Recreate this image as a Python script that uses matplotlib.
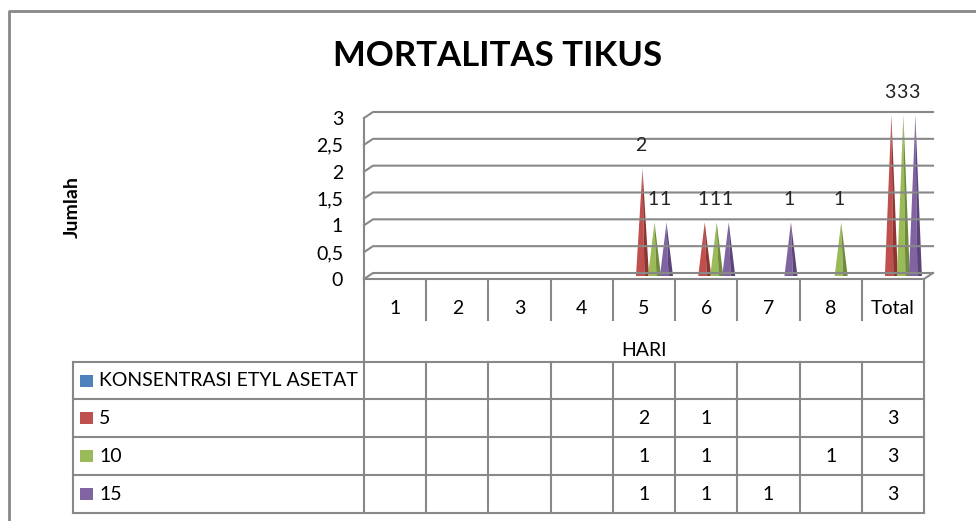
# Recreation of the chart "MORTALITAS TIKUS" (Excel-like 3D cone chart with data table)

# Import of libraries
import matplotlib
matplotlib.use("Agg")
import matplotlib.pyplot as plt
import numpy as np
from matplotlib.patches import Polygon, Rectangle
from matplotlib.ticker import FuncFormatter

plt.rcParams['font.family'] = ['Lato', 'DejaVu Sans']

# -----------------------------------------------------------------------------
# Data

nan = np.nan
hari = ['1', '2', '3', '4', '5', '6', '7', '8', 'Total']
seri = ['KONSENTRASI ETYL ASETAT', '5', '10', '15']
konsentrasi = [nan, nan, nan, nan, nan, nan, nan, nan, nan]
k5 = [nan, nan, nan, nan, 2, 1, nan, nan, 3]
k10 = [nan, nan, nan, nan, 1, 1, nan, 1, 3]
k15 = [nan, nan, nan, nan, 1, 1, 1, nan, 3]
y_ticks = [0, 0.5, 1, 1.5, 2, 2.5, 3]

warna = ['#4F81BD', '#C0504D', '#9BBB59', '#8064A2']
warna_gelap = ['#3A6194', '#8E3431', '#6F8B3B', '#5B4479']
abu = '#888888'
fs = 14

# -----------------------------------------------------------------------------
# Layout (pixels)

W, H = 976, 521
x_front, x_end = 364, 924
y_zero, y_top = 279, 118
depth_x, depth_y = 9, 6

fig = plt.figure(figsize=(W / 100, H / 100), dpi=100)

# overlay in pixel coordinates for frame and table
ax_t = fig.add_axes([0, 0, 1, 1])
ax_t.set_xlim(0, W)
ax_t.set_ylim(H, 0)
ax_t.axis('off')

# chart axes
ax = fig.add_axes([x_front / W, 1 - y_zero / H, (x_end - x_front) / W, (y_zero - y_top) / H])
ax.set_zorder(2)
ax.patch.set_alpha(0)
ax.set_xlim(-0.5, len(hari) - 0.5)
ax.set_ylim(0, 3)
for s in ax.spines.values():
    s.set_visible(False)
ax.set_xticks([])
ax.set_yticks(y_ticks)
ax.yaxis.set_major_formatter(FuncFormatter(lambda v, p: f'{v:g}'.replace('.', ',')))
ax.tick_params(axis='y', length=0, pad=15, labelsize=fs)

col_w = (x_end - x_front) / len(hari)
dx = depth_x / col_w
dy = depth_y / ((y_zero - y_top) / 3)
n_right = len(hari) - 0.5

# back wall gridlines, left wall and floor
for v in y_ticks:
    ax.plot([-0.5, -0.5 + dx, n_right + dx], [v, v + dy, v + dy], color=abu, lw=1.5, clip_on=False)
ax.plot([-0.5, -0.5], [0, 3], color=abu, lw=1.5, clip_on=False)
ax.plot([-0.5, n_right, n_right + dx], [0, 0, dy], color=abu, lw=1.5, clip_on=False)

# cones
spacing = 12 / col_w
half_w = 6.5 / col_w
base = dy / 2
for s, values in enumerate([konsentrasi, k5, k10, k15]):
    for i, v in enumerate(values):
        if np.isnan(v):
            continue
        cx = i + (s - 1.5) * spacing + dx / 2
        split = cx + 0.3 * half_w
        ax.add_patch(Polygon([(cx - half_w, base), (cx, base + v), (split, base)],
                             closed=True, facecolor=warna[s], edgecolor='none', clip_on=False))
        ax.add_patch(Polygon([(split, base), (cx, base + v), (cx + half_w, base)],
                             closed=True, facecolor=warna_gelap[s], edgecolor='none', clip_on=False))
        ax.annotate(f'{v:g}', (cx - 0.03, base + v), xytext=(0, 23), textcoords='offset pixels',
                    ha='center', va='center', fontsize=fs, color='#222222',
                    annotation_clip=False)

# title and axis title
ax_t.text(498, 56, 'MORTALITAS TIKUS', ha='center', va='center', fontsize=25, fontweight='bold')
ax_t.text(72, 207, 'Jumlah', ha='center', va='center', rotation=90, fontsize=14, fontweight='bold')

# outer frame
ax_t.plot([9, 9, W], [H, 11, 11], color=abu, lw=2)

# category header
edges = x_front + col_w * np.arange(len(hari) + 1)
ax_t.plot([x_front, x_front], [y_zero, 362], color=abu, lw=1.5)
ax_t.plot([x_end, x_end], [y_zero, 362], color=abu, lw=1.5)
for e in edges[1:-1]:
    ax_t.plot([e, e], [281, 320], color=abu, lw=1.5)
for i, h in enumerate(hari):
    ax_t.text((edges[i] + edges[i + 1]) / 2, 309, h, ha='center', va='center', fontsize=fs)
ax_t.text((x_front + x_end) / 2, 350, 'HARI', ha='center', va='center', fontsize=fs)

# data table
rows = [362, 399, 437, 475, 513]
x_tab = 73
for r in rows:
    ax_t.plot([x_tab, x_end], [r, r], color=abu, lw=1.5)
for e in [x_tab] + list(edges):
    ax_t.plot([e, e], [rows[0], rows[-1]], color=abu, lw=1.5)
for s, values in enumerate([konsentrasi, k5, k10, k15]):
    yc = (rows[s] + rows[s + 1]) / 2
    ax_t.add_patch(Rectangle((80, yc - 6), 13, 12, facecolor=warna[s], edgecolor='none'))
    ax_t.text(99, yc, seri[s], ha='left', va='center', fontsize=fs)
    for i, v in enumerate(values):
        if not np.isnan(v):
            ax_t.text((edges[i] + edges[i + 1]) / 2, yc, f'{v:g}', ha='center', va='center', fontsize=fs)

fig.savefig('out.png', dpi=100)
